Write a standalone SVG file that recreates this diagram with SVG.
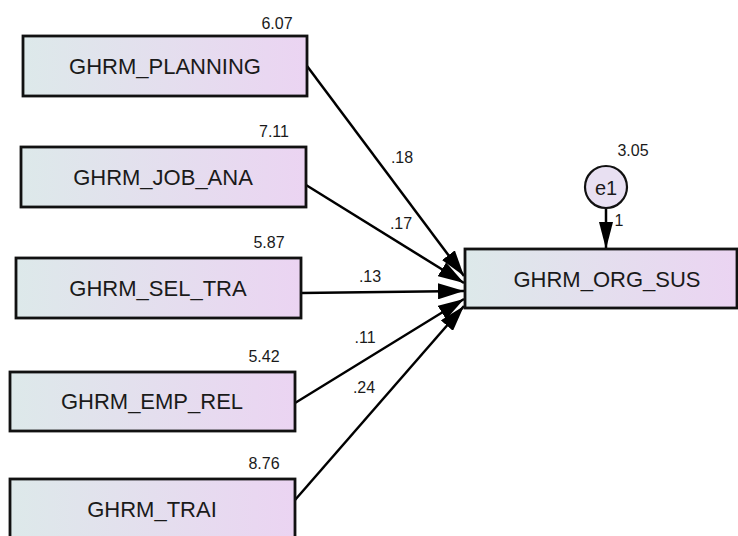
<svg xmlns="http://www.w3.org/2000/svg" width="738" height="536" viewBox="0 0 738 536">
<defs>
<linearGradient id="g" x1="0" y1="0" x2="1" y2="0">
<stop offset="0" stop-color="#dde9ea"/>
<stop offset="1" stop-color="#ebd4f2"/>
</linearGradient>
<marker id="ah" viewBox="0 0 26 16" refX="26" refY="8" markerWidth="26" markerHeight="16" markerUnits="userSpaceOnUse" orient="auto">
<path d="M0,0 L26,8 L0,16 Z" fill="#000"/>
</marker>
<marker id="ah2" viewBox="0 0 27 14" refX="27" refY="7" markerWidth="27" markerHeight="14" markerUnits="userSpaceOnUse" orient="auto">
<path d="M0,0 L27,7 L0,14 Z" fill="#000"/>
</marker>
</defs>
<style>
.box{fill:url(#g);stroke:#111;stroke-width:2.8}
.lbl{font-family:"Liberation Sans",Arial,sans-serif;font-size:22px;fill:#1a1a1a;text-anchor:middle}
.num{font-family:"Liberation Sans",Arial,sans-serif;font-size:16px;fill:#1a1a1a;text-anchor:middle}
.edge{stroke:#000;stroke-width:2.5;fill:none;marker-end:url(#ah)}
</style>
<rect width="738" height="536" fill="#fff"/>
<g id="connectors">
<line class="edge" x1="307" y1="66" x2="464" y2="276"/>
<line class="edge" x1="306" y1="185" x2="464" y2="283"/>
<line class="edge" x1="301" y1="293" x2="464" y2="291"/>
<line class="edge" x1="295" y1="403" x2="464" y2="299"/>
<line class="edge" x1="295" y1="500" x2="464" y2="306"/>
<line x1="606" y1="208" x2="606" y2="249" stroke="#000" stroke-width="2.5" marker-end="url(#ah2)"/>
<text class="num" x="402" y="163">.18</text>
<text class="num" x="401" y="229">.17</text>
<text class="num" x="370" y="282">.13</text>
<text class="num" x="365" y="343">.11</text>
<text class="num" x="364" y="393">.24</text>
<text class="num" x="619" y="226">1</text>
</g>
<g id="GHRM_PLANNING">
<rect class="box" x="23" y="36" width="284" height="60"/>
<text class="lbl" x="165" y="74">GHRM_PLANNING</text>
<text class="num" x="277" y="29">6.07</text>
</g>
<g id="GHRM_JOB_ANA">
<rect class="box" x="21" y="147" width="285" height="60"/>
<text class="lbl" x="163" y="185">GHRM_JOB_ANA</text>
<text class="num" x="274" y="137">7.11</text>
</g>
<g id="GHRM_SEL_TRA">
<rect class="box" x="16" y="258" width="285" height="60"/>
<text class="lbl" x="158" y="296">GHRM_SEL_TRA</text>
<text class="num" x="269" y="248">5.87</text>
</g>
<g id="GHRM_EMP_REL">
<rect class="box" x="10" y="372" width="285" height="59"/>
<text class="lbl" x="152" y="409">GHRM_EMP_REL</text>
<text class="num" x="264" y="362">5.42</text>
</g>
<g id="GHRM_TRAI">
<rect class="box" x="10" y="479" width="285" height="70"/>
<text class="lbl" x="152" y="517">GHRM_TRAI</text>
<text class="num" x="264" y="469">8.76</text>
</g>
<g id="GHRM_ORG_SUS">
<rect class="box" x="465" y="249" width="272" height="59"/>
<text class="lbl" x="607" y="287">GHRM_ORG_SUS</text>
</g>
<g id="e1">
<circle cx="606" cy="187" r="21" fill="#e8e0f2" stroke="#111" stroke-width="2.2"/>
<text class="lbl" x="606" y="195" style="font-size:20px">e1</text>
<text class="num" x="633" y="156">3.05</text>
</g>
</svg>
